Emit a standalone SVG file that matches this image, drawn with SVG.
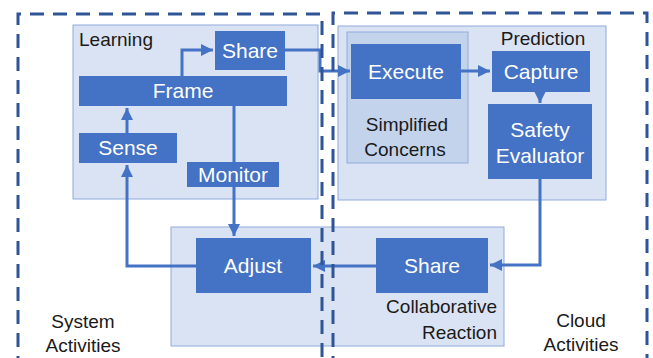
<svg xmlns="http://www.w3.org/2000/svg" width="653" height="358" viewBox="0 0 653 358">
<defs>
<style>
.grp{fill:#DAE3F3;stroke:#8FAADC;stroke-width:1}
.sub{fill:#C3D3EC;stroke:#8FAADC;stroke-width:1}
.node{fill:#4472C4}
.wt{font-family:"Liberation Sans",Arial,sans-serif;font-size:21px;fill:#FFFFFF;text-anchor:middle}
.bt{font-family:"Liberation Sans",Arial,sans-serif;font-size:19px;fill:#1A1A1A}
.dash{fill:none;stroke:#2F5597;stroke-width:3;stroke-dasharray:14 9}
.conn{fill:none;stroke:#4472C4;stroke-width:3}
</style>
<marker id="ah" viewBox="0 0 10 10" refX="10" refY="5" markerWidth="4" markerHeight="4" markerUnits="strokeWidth" orient="auto">
<path d="M0,0 L10,5 L0,10 z" fill="#4472C4"/>
</marker>
</defs>
<rect width="653" height="358" fill="#FFFFFF"/>

<g id="learning">
<rect class="grp" x="73" y="25" width="245" height="174"/>
<text class="bt" x="79" y="46">Learning</text>
</g>
<g id="prediction">
<rect class="grp" x="338" y="26" width="268" height="174"/>
<text class="bt" x="543" y="45" text-anchor="middle">Prediction</text>
</g>
<g id="simplified-concerns">
<rect class="sub" x="347" y="32" width="121" height="131"/>
<text class="bt" x="407" y="131" text-anchor="middle">Simplified</text>
<text class="bt" x="405" y="156" text-anchor="middle">Concerns</text>
</g>
<g id="collaborative-reaction">
<rect class="grp" x="171" y="227" width="333" height="119"/>
<text class="bt" x="497" y="313" text-anchor="end">Collaborative</text>
<text class="bt" x="497" y="339" text-anchor="end">Reaction</text>
</g>

<g id="connectors">
<path class="conn" d="M182,76 V50 H213" marker-end="url(#ah)"/>
<path class="conn" d="M127,133 V108" marker-end="url(#ah)"/>
<path class="conn" d="M196,266 H127 V165" marker-end="url(#ah)"/>
<path class="conn" d="M234,106 V236" marker-end="url(#ah)"/>
<path class="conn" d="M285,50 H320 V71 H350" marker-end="url(#ah)"/>
<path class="conn" d="M461,71 H490" marker-end="url(#ah)"/>
<path class="conn" d="M540,92 V103" marker-end="url(#ah)"/>
<path class="conn" d="M540,179 V265 H490" marker-end="url(#ah)"/>
<path class="conn" d="M376,266 H313" marker-end="url(#ah)"/>
</g>

<g id="share-top"><rect class="node" x="215" y="31" width="70" height="39"/><text class="wt" x="250" y="58">Share</text></g>
<g id="frame"><rect class="node" x="79" y="76" width="208" height="30"/><text class="wt" x="183" y="98">Frame</text></g>
<g id="sense"><rect class="node" x="79" y="133" width="98" height="30"/><text class="wt" x="128" y="155">Sense</text></g>
<g id="monitor"><rect class="node" x="187" y="162" width="92" height="25"/><text class="wt" x="233" y="182">Monitor</text></g>
<g id="execute"><rect class="node" x="351" y="44" width="110" height="55"/><text class="wt" x="406" y="79">Execute</text></g>
<g id="capture"><rect class="node" x="492" y="51" width="98" height="41"/><text class="wt" x="541" y="79">Capture</text></g>
<g id="safety-evaluator"><rect class="node" x="488" y="104" width="104" height="75"/><text class="wt" x="540" y="137">Safety</text><text class="wt" x="540" y="163">Evaluator</text></g>
<g id="adjust"><rect class="node" x="196" y="238" width="115" height="55"/><text class="wt" x="253" y="273">Adjust</text></g>
<g id="share-bottom"><rect class="node" x="376" y="238" width="112" height="55"/><text class="wt" x="432" y="273">Share</text></g>

<g id="system-activities">
<path class="dash" d="M18,370 V14 H322 V370"/>
<text class="bt" x="83" y="328" text-anchor="middle">System</text>
<text class="bt" x="83" y="352" text-anchor="middle">Activities</text>
</g>
<g id="cloud-activities">
<path class="dash" d="M333,370 V13 H647 V370"/>
<text class="bt" x="581" y="327" text-anchor="middle">Cloud</text>
<text class="bt" x="581" y="351" text-anchor="middle">Activities</text>
</g>
</svg>
